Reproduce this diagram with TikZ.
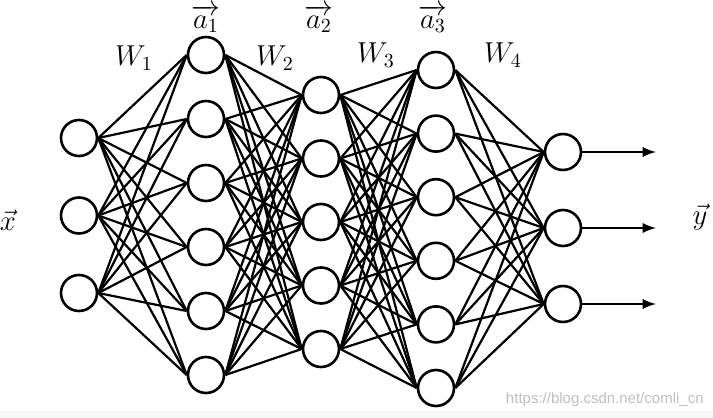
\documentclass[tikz,border=0pt]{standalone}
\usepackage{amsmath}
\usepackage{fontspec}
\newfontfamily\wmfont{Liberation Sans}

\begin{document}
\begin{tikzpicture}[x=0.5pt, y=-0.5pt, >=latex,
    neuron/.style={circle, draw=black, line width=1.3pt, fill=white, minimum size=18pt, inner sep=0pt},
    weight/.style={line width=1.1pt, draw=black},
    output/.style={->, line width=1.3pt, draw=black},
    lab/.style={font=\Large, inner sep=0pt}]

\useasboundingbox (0,0) rectangle (713,418);
\fill[black!3] (0,411) rectangle (713,418);

% layers
\foreach \i in {1,...,3}
  \node[neuron] (x-\i) at (79, {138+77.5*(\i-1)}) {};
\foreach \i in {1,...,6}
  \node[neuron] (a1-\i) at (206, {55+64*(\i-1)}) {};
\foreach \i in {1,...,5}
  \node[neuron] (a2-\i) at (321, {95+63.5*(\i-1)}) {};
\foreach \i in {1,...,6}
  \node[neuron] (a3-\i) at (436, {70+63.6*(\i-1)}) {};
\foreach \i in {1,...,3}
  \node[neuron] (y-\i) at (563, {152+76*(\i-1)}) {};

% weights
\foreach \i in {1,...,3}
  \foreach \j in {1,...,6}
    \draw[weight] (x-\i.east) -- (a1-\j.west);
\foreach \i in {1,...,6}
  \foreach \j in {1,...,5}
    \draw[weight] (a1-\i.east) -- (a2-\j.west);
\foreach \i in {1,...,5}
  \foreach \j in {1,...,6}
    \draw[weight] (a2-\i.east) -- (a3-\j.west);
\foreach \i in {1,...,6}
  \foreach \j in {1,...,3}
    \draw[weight] (a3-\i.east) -- (y-\j.west);

% outputs
\foreach \i in {1,...,3} {
  \coordinate (out-\i) at (656, {152+76*(\i-1)});
  \draw[output] (y-\i.east) -- (out-\i);
}

% labels
\node[lab] (lx) at (8,220) {$\vec{x}$};
\node[lab] (ly) at (700,217) {$\vec{y}$};
\node[lab] (la1) at (206,19) {$\overrightarrow{a_1}$};
\node[lab] (la2) at (319,19) {$\overrightarrow{a_2}$};
\node[lab] (la3) at (433,19) {$\overrightarrow{a_3}$};
\node[lab] (w1) at (134,58) {$W_1$};
\node[lab] (w2) at (275,58) {$W_2$};
\node[lab] (w3) at (376,55) {$W_3$};
\node[lab] (w4) at (503,55) {$W_4$};

\node[text=black!25, font=\wmfont\fontsize{7.5}{9}\selectfont, anchor=east, inner sep=0pt] (wm) at (704,400) {https://blog.csdn.net/comli\_cn};

\end{tikzpicture}
\end{document}
